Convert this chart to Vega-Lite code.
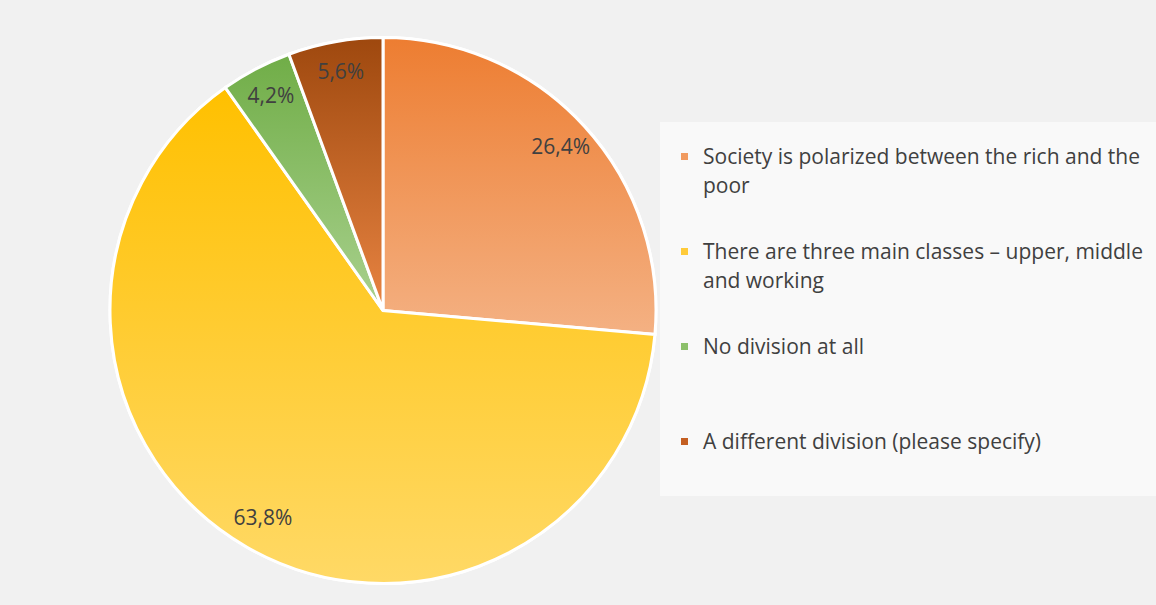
{
  "$schema": "https://vega.github.io/schema/vega-lite/v6.json",
  "width": 748,
  "height": 581,
  "autosize": {"type": "none"},
  "padding": {"left": 9, "top": 20, "right": 399, "bottom": 4},
  "background": "#f1f1f1",
  "config": {
    "view": {"stroke": null},
    "font": "Open Sans",
    "style": {"guide-label": {"lineHeight": 29}},
    "legend": {
      "symbolType": "M-1,1.86H1V3.86H-1Z",
      "symbolSize": 49,
      "symbolStrokeWidth": 0,
      "labelFont": "Open Sans",
      "labelFontSize": 21,
      "labelColor": "#404040",
      "labelLimit": 0,
      "labelOffset": 8,
      "labelBaseline": "top",
      "rowPadding": 34,
      "padding": 14,
      "fillColor": "rgba(255,255,255,0.55)"
    }
  },
  "data": {
    "values": [
      {"answer": "Society is polarized between the rich and the poor", "share": 26.4, "label": "26,4%", "order": 1},
      {"answer": "There are three main classes – upper, middle and working", "share": 63.8, "label": "63,8%", "order": 2},
      {"answer": "No division at all", "share": 4.2, "label": "4,2%", "order": 3},
      {"answer": "A different division (please specify)", "share": 5.6, "label": "5,6%", "order": 4}
    ]
  },
  "layer": [
    {
      "transform": [
        {"stack": "share", "groupby": [], "sort": [{"field": "order", "order": "ascending"}], "as": ["start", "end"]}
      ],
      "encoding": {
        "theta": {"field": "start", "type": "quantitative", "scale": {"domain": [0, 100]}},
        "theta2": {"field": "end"}
      },
      "layer": [
        {
          "mark": {"type": "arc", "outerRadius": 273, "stroke": "white", "strokeWidth": 3},
          "encoding": {
            "color": {
              "field": "answer",
              "type": "nominal",
              "scale": {
                "domain": [
                  "Society is polarized between the rich and the poor",
                  "There are three main classes – upper, middle and working",
                  "No division at all",
                  "A different division (please specify)"
                ],
                "range": ["#F19A5F", "#FFCB3A", "#8CC06A", "#C45F22"]
              },
              "legend": {
                "title": null,
                "orient": "none",
                "legendX": 651,
                "legendY": 102,
                "labelExpr": "datum.label == 'Society is polarized between the rich and the poor' ? [' Society is polarized between the rich and the', 'poor'] : datum.label == 'There are three main classes – upper, middle and working' ? ['There are three main classes – upper, middle', 'and working'] : [' ' + datum.label, '']",
                "encode": {"labels": {"lineHeight": {"value": 29}}}
              }
            }
          }
        },
        {
          "transform": [{"filter": "datum.order == 1"}],
          "mark": {"type": "arc", "outerRadius": 273, "stroke": "white", "strokeWidth": 3,
            "color": {"gradient": "linear", "x1": 0, "y1": 0, "x2": 0, "y2": 1,
              "stops": [{"offset": 0, "color": "#ED7D31"}, {"offset": 1, "color": "#F4B183"}]}}
        },
        {
          "transform": [{"filter": "datum.order == 2"}],
          "mark": {"type": "arc", "outerRadius": 273, "stroke": "white", "strokeWidth": 3,
            "color": {"gradient": "linear", "x1": 0, "y1": 0, "x2": 0, "y2": 1,
              "stops": [{"offset": 0, "color": "#FFC000"}, {"offset": 1, "color": "#FFD966"}]}}
        },
        {
          "transform": [{"filter": "datum.order == 3"}],
          "mark": {"type": "arc", "outerRadius": 273, "stroke": "white", "strokeWidth": 3,
            "color": {"gradient": "linear", "x1": 0, "y1": 0, "x2": 0, "y2": 1,
              "stops": [{"offset": 0, "color": "#70AD47"}, {"offset": 1, "color": "#A9D18E"}]}}
        },
        {
          "transform": [{"filter": "datum.order == 4"}],
          "mark": {"type": "arc", "outerRadius": 273, "stroke": "white", "strokeWidth": 3,
            "color": {"gradient": "linear", "x1": 0, "y1": 0, "x2": 0, "y2": 1,
              "stops": [{"offset": 0, "color": "#9E480E"}, {"offset": 1, "color": "#E88442"}]}}
        }
      ]
    },
    {
      "mark": {"type": "text", "radius": 241, "font": "Open Sans", "fontSize": 21, "color": "#404040"},
      "encoding": {
        "theta": {"field": "share", "type": "quantitative", "stack": true, "scale": {"domain": [0, 100]}},
        "order": {"field": "order", "type": "quantitative"},
        "text": {"field": "label"}
      }
    }
  ]
}
